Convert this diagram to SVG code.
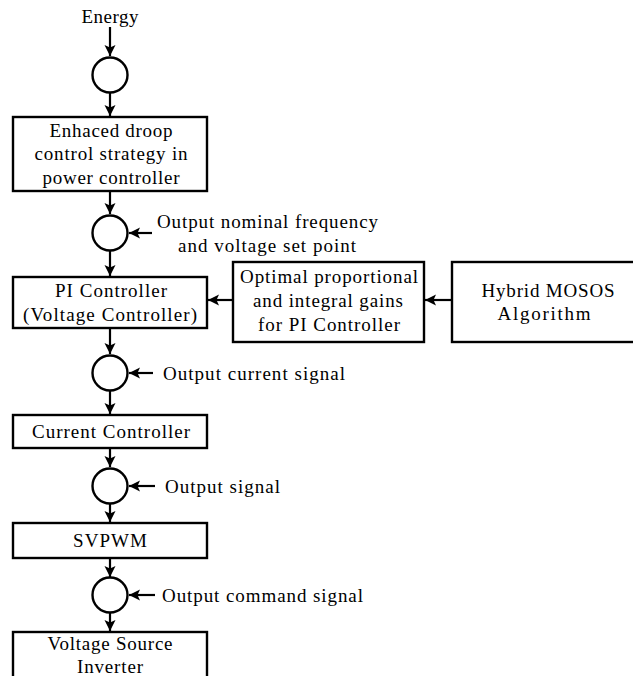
<svg xmlns="http://www.w3.org/2000/svg" width="633" height="676" viewBox="0 0 633 676">
<defs>
<marker id="ah" markerUnits="userSpaceOnUse" markerWidth="12" markerHeight="12" refX="11" refY="6" orient="auto">
<path d="M0,0.5 L11,6 L0,11.5 L2.5,6 z" fill="#000"/>
</marker>
<style>
.box{fill:#fff;stroke:#000;stroke-width:2.4}
.sum{fill:#fff;stroke:#000;stroke-width:2.4}
.ln{stroke:#000;stroke-width:2.2;fill:none;marker-end:url(#ah)}
text{font-family:'Liberation Serif',serif;font-size:19px;fill:#000}
.c{text-anchor:middle}
</style>
</defs>
<rect width="633" height="676" fill="#fff"/>
<g id="connectors">
<line class="ln" x1="110" y1="27" x2="110" y2="56"/>
<line class="ln" x1="110" y1="93" x2="110" y2="116"/>
<line class="ln" x1="110" y1="192" x2="110" y2="214"/>
<line class="ln" x1="152" y1="233" x2="129" y2="233"/>
<line class="ln" x1="110" y1="251" x2="110" y2="276"/>
<line class="ln" x1="452" y1="300" x2="425" y2="300"/>
<line class="ln" x1="233" y1="300" x2="208" y2="300"/>
<line class="ln" x1="110" y1="329" x2="110" y2="354"/>
<line class="ln" x1="153" y1="373" x2="129" y2="373"/>
<line class="ln" x1="110" y1="391" x2="110" y2="414"/>
<line class="ln" x1="110" y1="449" x2="110" y2="467"/>
<line class="ln" x1="155" y1="486" x2="129" y2="486"/>
<line class="ln" x1="110" y1="504" x2="110" y2="522"/>
<line class="ln" x1="110" y1="559" x2="110" y2="577"/>
<line class="ln" x1="155" y1="595" x2="129" y2="595"/>
<line class="ln" x1="110" y1="613" x2="110" y2="631"/>
</g>
<g id="energy"><text class="c" x="110" y="23" textLength="57">Energy</text></g>
<g id="sum1"><circle class="sum" cx="110" cy="75" r="17.5"/></g>
<g id="droop">
<rect class="box" x="13" y="117" width="194" height="74"/>
<text class="c" x="111" y="137" textLength="123">Enhaced droop</text>
<text class="c" x="111" y="160" textLength="153">control strategy in</text>
<text class="c" x="111" y="184" textLength="137">power controller</text>
</g>
<g id="sum2"><circle class="sum" cx="110" cy="233" r="17.5"/>
<text x="157" y="228" textLength="221">Output nominal frequency</text>
<text x="178" y="252" textLength="178">and voltage set point</text>
</g>
<g id="pi">
<rect class="box" x="13" y="277" width="194" height="51"/>
<text class="c" x="111" y="297" textLength="112">PI Controller</text>
<text class="c" x="110" y="321" textLength="174">(Voltage Controller)</text>
</g>
<g id="optimal">
<rect class="box" x="233" y="262" width="191" height="80"/>
<text class="c" x="329" y="283" textLength="178">Optimal proportional</text>
<text class="c" x="328" y="307" textLength="150">and integral gains</text>
<text class="c" x="329" y="331" textLength="142">for PI Controller</text>
</g>
<g id="mosos">
<rect class="box" x="452" y="262" width="200" height="80"/>
<text class="c" x="548" y="297" textLength="133">Hybrid MOSOS</text>
<text class="c" x="544" y="320" textLength="93">Algorithm</text>
</g>
<g id="sum3"><circle class="sum" cx="110" cy="373" r="17.5"/>
<text x="163" y="380" textLength="182">Output current signal</text>
</g>
<g id="current">
<rect class="box" x="13" y="415" width="194" height="33"/>
<text class="c" x="111" y="438" textLength="158">Current Controller</text>
</g>
<g id="sum4"><circle class="sum" cx="110" cy="486" r="17.5"/>
<text x="165" y="493" textLength="115">Output signal</text>
</g>
<g id="svpwm">
<rect class="box" x="13" y="523" width="194" height="35"/>
<text class="c" x="110" y="547" textLength="74">SVPWM</text>
</g>
<g id="sum5"><circle class="sum" cx="110" cy="595" r="17.5"/>
<text x="162" y="602" textLength="201">Output command signal</text>
</g>
<g id="vsi">
<rect class="box" x="13" y="632" width="194" height="60"/>
<text class="c" x="110" y="650" textLength="125">Voltage Source</text>
<text class="c" x="110" y="673" textLength="66">Inverter</text>
</g>
</svg>
